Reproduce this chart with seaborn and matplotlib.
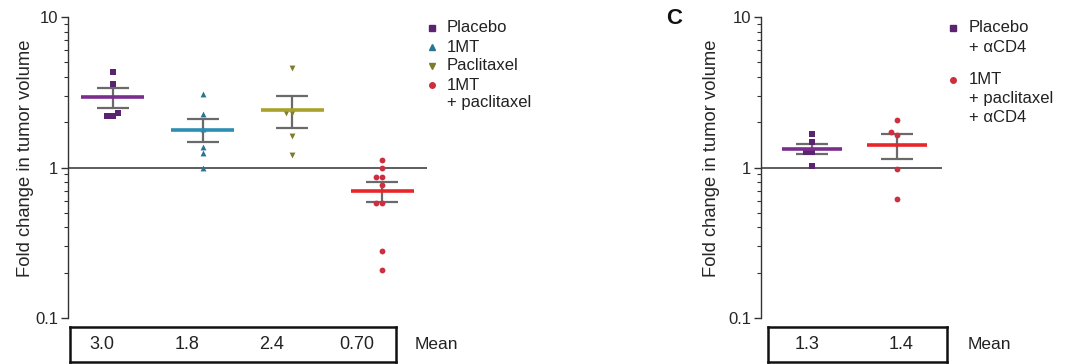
import numpy as np
import pandas as pd
import matplotlib
matplotlib.use("Agg")
import matplotlib.pyplot as plt
import seaborn as sns
from matplotlib.lines import Line2D
from matplotlib.ticker import LogLocator, NullFormatter

# panel B data (fold change in tumor volume)
groups_b = ["Placebo", "1MT", "Paclitaxel", "1MT + paclitaxel"]
placebo = [4.3, 3.6, 2.3, 2.2, 2.2]
one_mt = [3.07, 2.25, 1.79, 1.36, 1.24, 1.0]
paclitaxel = [4.57, 2.3, 2.3, 1.61, 1.22]
combo = [1.13, 1.0, 0.86, 0.86, 0.77, 0.58, 0.58, 0.28, 0.21]
mean_labels_b = ["3.0", "1.8", "2.4", "0.70"]

# panel C data
groups_c = ["Placebo + aCD4", "1MT + paclitaxel + aCD4"]
placebo_cd4 = [1.66, 1.47, 1.26, 1.26, 1.03]
combo_cd4 = [2.06, 1.71, 1.65, 0.97, 0.62]
mean_labels_c = ["1.3", "1.4"]

legend_b = [["Placebo"], ["1MT"], ["Paclitaxel"], ["1MT", "+ paclitaxel"]]
legend_c = [["Placebo", "+ \u03b1CD4"], ["1MT", "+ paclitaxel", "+ \u03b1CD4"]]

line_colors_b = ["#7b2d8e", "#2b8fb3", "#a9a12a", "#e8262a"]
point_colors_b = ["#5b2470", "#2a7393", "#7f7b2c", "#cc2f3f"]
markers_b = ["s", "^", "v", "o"]
line_colors_c = ["#7b2d8e", "#e8262a"]
point_colors_c = ["#5b2470", "#cc2f3f"]
markers_c = ["s", "o"]

W, H = 1073, 364
FONT = 12

sns.set_theme(style="white")
plt.rcParams["font.family"] = ["Liberation Sans", "DejaVu Sans"]


def fx(px):
    return px / W


def fy(py):
    return 1 - py / H


def long_frame(groups, series):
    rows = []
    for g, vals in zip(groups, series):
        for v in vals:
            rows.append({"group": g, "value": v})
    return pd.DataFrame(rows)


def draw_panel(ax, groups, series, line_colors, point_colors, markers, xlim):
    df = long_frame(groups, series)
    for g, pc, m in zip(groups, point_colors, markers):
        sub = df[df["group"] == g]
        sns.swarmplot(data=sub, x="group", y="value", order=groups, color=pc,
                      marker=m, size=4.2 if m != "s" else 3.8, ax=ax, zorder=3,
                      linewidth=0)

    stats = df.groupby("group", sort=False)["value"].agg(["mean", "sem"])
    for i, g in enumerate(groups):
        m, s = stats.loc[g, "mean"], stats.loc[g, "sem"]
        ax.errorbar(i, m, yerr=s, color="#6a6a6a", lw=1.6, capsize=11.5,
                    capthick=1.6, zorder=2)
        ax.hlines(m, i - 0.35, i + 0.35, color=line_colors[i], lw=2.6, zorder=4)

    ax.axhline(1, color="#505050", lw=1.3, zorder=1)
    ax.set_yscale("log")
    ax.set_ylim(0.1, 10)
    ax.set_xlim(*xlim)
    ax.set_yticks([0.1, 1, 10], labels=["0.1", "1", "10"])
    ax.yaxis.set_minor_locator(LogLocator(base=10, subs=np.arange(2, 10)))
    ax.yaxis.set_minor_formatter(NullFormatter())
    ax.set_xticks([])
    ax.set_xlabel("")
    ax.tick_params(axis="y", which="major", length=5, width=1, color="#333",
                   labelsize=FONT, pad=2, left=True)
    ax.tick_params(axis="y", which="minor", length=3, width=0.8, color="#333",
                   left=True)
    for side in ["top", "right", "bottom"]:
        ax.spines[side].set_visible(False)
    ax.spines["left"].set_color("#333")
    ax.spines["left"].set_linewidth(1)
    ax.set_ylabel("Fold change in tumor volume", fontsize=13.2)


def draw_table(fig, labels, box_px, first_px, step_px, mean_x_px):
    # boxed row of means; value i sits at first_px + i * step_px
    l, r, t, b = box_px
    tab = fig.add_axes([fx(l), fy(b), fx(r - l), (b - t) / H])
    tab.set_xlim((l - first_px) / step_px, (r - first_px) / step_px)
    tab.set_ylim(0, 1)
    tab.set_xticks([])
    tab.set_yticks([])
    tab.set_facecolor("none")
    for sp in tab.spines.values():
        sp.set_visible(True)
        sp.set_color("#111")
        sp.set_linewidth(1.8)
    for i, lab in enumerate(labels):
        tab.text(i, 0.5, lab, ha="center", va="center", fontsize=13, color="#222")
    fig.text(fx(mean_x_px), fy((t + b) / 2), "Mean", ha="left", va="center",
             fontsize=12.5, color="#222")


def draw_legend(fig, entries, colors, markers, x_marker, x_text, rows):
    for lines, c, m, ys in zip(entries, colors, markers, rows):
        fig.add_artist(Line2D([fx(x_marker)], [fy(ys[0])], marker=m, color=c,
                              markersize=4, linestyle="none",
                              transform=fig.transFigure))
        for txt, y in zip(lines, ys):
            fig.text(fx(x_text), fy(y), txt, ha="left", va="center",
                     fontsize=FONT, color="#222")


fig = plt.figure(figsize=(W / 100, H / 100), dpi=100)

ax_b = fig.add_axes([fx(68), fy(318), fx(427 - 68), (318 - 17) / H])
ax_c = fig.add_axes([fx(761), fy(318), fx(942 - 761), (318 - 17) / H])

draw_panel(ax_b, groups_b, [placebo, one_mt, paclitaxel, combo],
           line_colors_b, point_colors_b, markers_b, (-0.5, 3.5))
draw_panel(ax_c, groups_c, [placebo_cd4, combo_cd4],
           line_colors_c, point_colors_c, markers_c, (-0.6, 1.53))
ax_b.yaxis.set_label_coords(-0.095, 0.53)
ax_c.yaxis.set_label_coords(-0.225, 0.53)

draw_table(fig, mean_labels_b, (70, 396, 327, 362), 102, 85, 415)
draw_table(fig, mean_labels_c, (768, 947, 327, 362), 807, 94, 968)

draw_legend(fig, legend_b, point_colors_b, markers_b, 432, 447,
            [[28], [47], [66], [85, 103]])
draw_legend(fig, legend_c, point_colors_c, markers_c, 953, 969,
            [[28, 47], [80, 99, 117]])

fig.text(fx(666), fy(19), "C", ha="left", va="center", fontsize=16,
         fontweight="bold", color="#111")

fig.savefig("out.png", dpi=100)
